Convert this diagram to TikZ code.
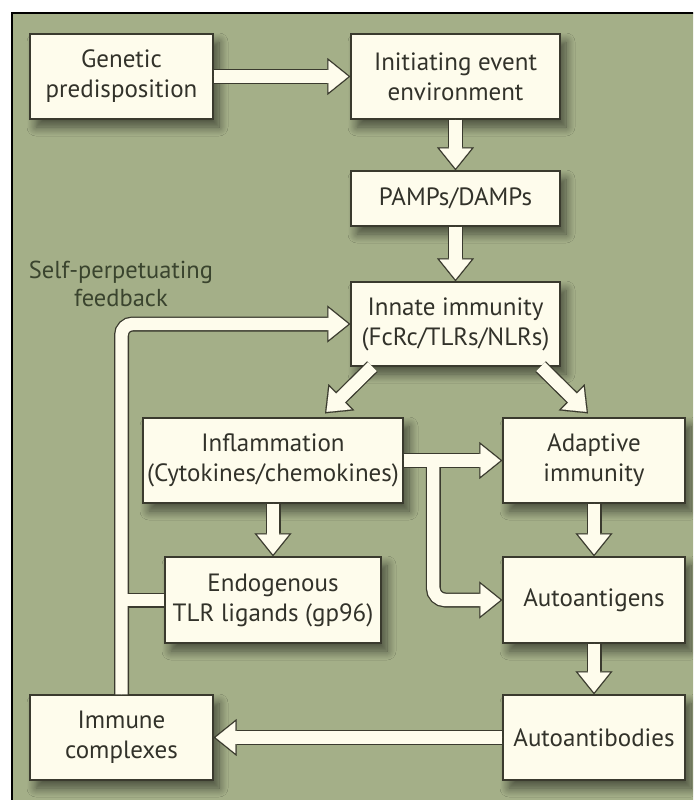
\documentclass[tikz,border=0pt]{standalone}
\usepackage{fontspec}
\setmainfont{PT Sans}
\usetikzlibrary{arrows.meta,calc,shadows.blur}
\definecolor{bg}{RGB}{164,175,136}
\definecolor{cream}{RGB}{254,252,236}
\definecolor{edge}{RGB}{58,58,46}
\definecolor{ink}{RGB}{50,50,42}
\definecolor{labelink}{RGB}{58,68,46}
\tikzset{
  box/.style={draw=edge, line width=1.3pt, fill=cream, text=ink,
    font=\fontsize{25}{30}\selectfont, align=center, inner sep=0pt,
    blur shadow={shadow xshift=6pt, shadow yshift=-8pt, shadow blur radius=9pt,
      shadow opacity=55, shadow blur steps=12}},
  fatout/.style={draw=edge, line width=15pt,
    -{Triangle[length=23pt,width=37pt,line width=0.1pt]}},
  fatin/.style={draw=cream, line width=12.4pt, shorten >=20pt,
    postaction={draw=cream, line width=0.1pt, shorten >=2.1pt,
      -{Triangle[length=19.6pt,width=31.5pt,line width=0.1pt]}}},
  barout/.style={draw=edge, line width=15pt},
  barin/.style={draw=cream, line width=12.4pt},
}
\begin{document}
\begin{tikzpicture}[x=1pt,y=-1pt]
\useasboundingbox (0,0) rectangle (693,800);
\clip (0,0) rectangle (693,800);
\fill[white] (0,0) rectangle (693,800);
\draw[line width=1.5pt, fill=bg] (12,13) rectangle (720,830);

% boxes
\node[box, minimum width=183pt, minimum height=85pt] (gen) at (121.5,76.5) {Genetic\\predisposition};
\node[box, minimum width=209pt, minimum height=85pt] (init) at (455.5,76.5) {Initiating event\\environment};
\node[box, minimum width=209pt, minimum height=55pt] (pamps) at (455.5,198.5) {PAMPs/DAMPs};
\node[box, minimum width=209pt, minimum height=84pt] (innate) at (455.5,324) {Innate immunity\\(FcRc/TLRs/NLRs)};
\node[box, minimum width=260pt, minimum height=85pt] (infl) at (273,460.5) {Inflammation\\(Cytokines/chemokines)};
\node[box, minimum width=182pt, minimum height=85pt] (adap) at (594,460.5) {Adaptive\\immunity};
\node[box, minimum width=216pt, minimum height=86pt] (endo) at (273,600) {Endogenous\\TLR ligands (gp96)};
\node[box, minimum width=182pt, minimum height=86pt] (autoag) at (594,600) {Autoantigens};
\node[box, minimum width=183pt, minimum height=85pt] (imm) at (121.5,737.5) {Immune\\complexes};
\node[box, minimum width=182pt, minimum height=85pt] (autoab) at (594,737.5) {Autoantibodies};

\node[font=\fontsize{24.5}{28}\selectfont, text=labelink, align=center] (fb) at (121,284) {Self-perpetuating\\feedback};

\coordinate (brA) at ($(infl.east)!0.3!(adap.west)$);
\coordinate (brB) at (imm.north |- endo.west);
\coordinate (dlS) at ($(innate.south west)+(22,0)$);
\coordinate (dlE) at ($(infl.north)+(52,-4)$);
\coordinate (drS) at ($(innate.south east)+(-20,0)$);
\coordinate (drE) at ($(adap.north)+(-6,-4)$);

% dark outlines
\draw[fatout] (gen.east) -- (init.west);
\draw[fatout] (init.south) -- (pamps.north);
\draw[fatout] (pamps.south) -- (innate.north);
\draw[fatout] (dlS) -- (dlE);
\draw[fatout] (drS) -- (drE);
\draw[fatout] (infl.east) -- (adap.west);
\draw[fatout, rounded corners=12pt] (brA) |- (autoag.west);
\draw[fatout] (infl.south) -- (endo.north);
\draw[fatout] (adap.south) -- (autoag.north);
\draw[fatout] (autoag.south) -- (autoab.north);
\draw[fatout] (autoab.west) -- (imm.east);
\draw[fatout, rounded corners=11pt] (imm.north) |- (innate.west);
\draw[barout] (endo.west) -- (brB);

% cream fills
\draw[fatin] (gen.east) -- (init.west);
\draw[fatin] (init.south) -- (pamps.north);
\draw[fatin] (pamps.south) -- (innate.north);
\draw[fatin] (dlS) -- (dlE);
\draw[fatin] (drS) -- (drE);
\draw[fatin] (infl.east) -- (adap.west);
\draw[fatin, rounded corners=12pt] (brA) |- (autoag.west);
\draw[fatin] (infl.south) -- (endo.north);
\draw[fatin] (adap.south) -- (autoag.north);
\draw[fatin] (autoag.south) -- (autoab.north);
\draw[fatin] (autoab.west) -- (imm.east);
\draw[fatin, rounded corners=11pt] (imm.north) |- (innate.west);
\draw[barin] (endo.west) -- (brB);
\end{tikzpicture}
\end{document}
